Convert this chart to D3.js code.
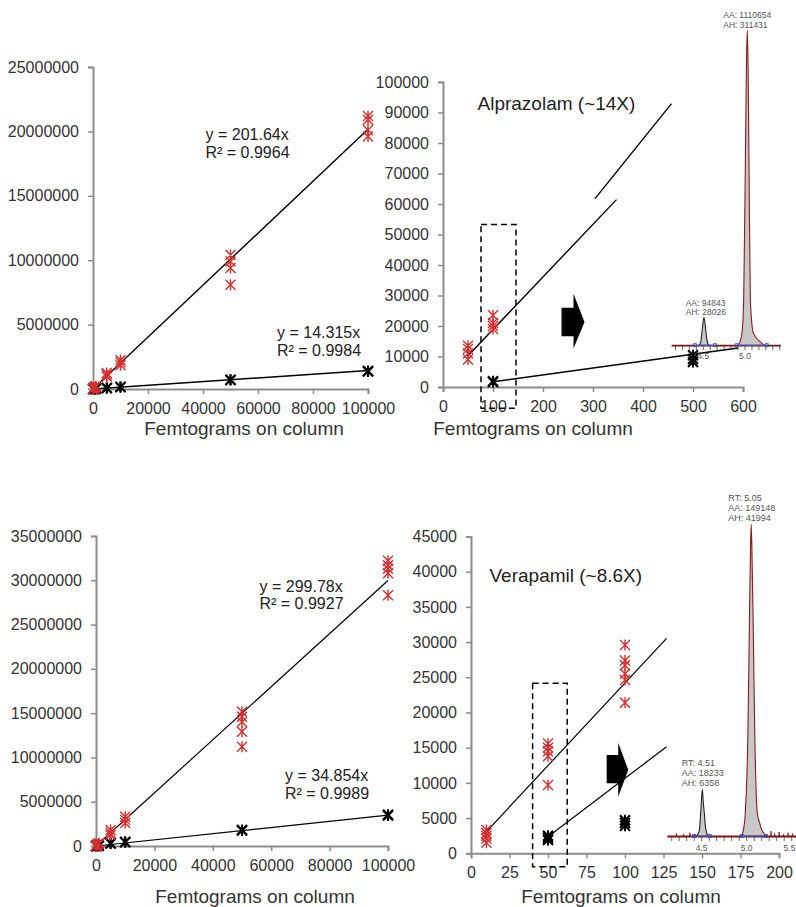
<!DOCTYPE html>
<html><head><meta charset="utf-8">
<script src="https://cdn.jsdelivr.net/npm/d3@7"></script>
<style>body{margin:0;background:#fff}svg{display:block}</style>
</head><body><svg id="c" width="796" height="907"></svg>
<script>
// ---------- DATA ----------
// Alprazolam: high-sensitivity (red) and standard (black) responses, [femtograms, area]
const alpHigh = [[50,13500],[50,12500],[50,11000],[50,9000],[100,23500],[100,21000],[100,20000],[100,19000],
  [500,112000],[500,106000],[500,102000],[1000,215000],[1000,195000],[1000,175000],
  [5000,1250000],[5000,1100000],[5000,950000],[10000,2250000],[10000,2050000],[10000,1850000],
  [50000,10400000],[50000,9900000],[50000,9400000],[50000,8100000],
  [100000,21200000],[100000,20900000],[100000,20100000],[100000,19600000]];
const alpLow = [[100,1900],[100,1600],[500,10400],[500,9200],[500,8200],[1000,15000],[1000,13500],
  [5000,80000],[5000,70000],[10000,165000],[10000,145000],[50000,720000],[50000,690000],
  [100000,1400000],[100000,1360000]];
// Verapamil
const verHigh = [[10,3300],[10,2900],[10,2500],[10,2100],[10,1500],[50,15600],[50,15000],[50,14500],[50,13800],[50,9700],
  [100,29600],[100,27400],[100,26700],[100,25500],[100,24600],[100,21400],[500,160000],[500,145000],
  [1000,310000],[1000,290000],[5000,1800000],[5000,1500000],[5000,1250000],[10000,3300000],[10000,2950000],[10000,2600000],
  [50000,15150000],[50000,14600000],[50000,14000000],[50000,12900000],[50000,11200000],
  [100000,32200000],[100000,31700000],[100000,31300000],[100000,30800000],[100000,28300000]];
const verLow = [[50,2500],[50,2200],[50,1900],[100,4700],[100,4300],[100,3900],[500,17500],[1000,35000],
  [5000,320000],[5000,280000],[10000,470000],[10000,420000],[50000,1800000],[50000,1750000],
  [100000,3520000],[100000,3450000]];
// trend-line slopes and labels
const alpSlopes = [201.64, 14.315];
const verSlopes = [299.78, 34.854];
const alpEqHigh = ["y = 201.64x", "R\u00b2 = 0.9964"];
const alpEqLow  = ["y = 14.315x", "R\u00b2 = 0.9984"];
const verEqHigh = ["y = 299.78x", "R\u00b2 = 0.9927"];
const verEqLow  = ["y = 34.854x", "R\u00b2 = 0.9989"];
// guide lines in the zoomed panels, [femtograms, area]
const alpZoomRed = [[[49,10060],[347,61440]], [[304,61770],[457,92920]]];
const alpZoomBlack = [[100,1700],[590,12800]];
const verZoomRed = [[9,2840],[127,30540]];
const verZoomBlack = [[50,2360],[127,15140]];
const alpBox = [[76,-7000],[146,53300]];
const verBox = [[40,-1900],[62.5,24150]];
// tick values
const bigXTicks = [0,20000,40000,60000,80000,100000];
const alpYTicks = [0,5000000,10000000,15000000,20000000,25000000];
const verYTicks = [0,5000000,10000000,15000000,20000000,25000000,30000000,35000000];
const alpZoomXTicks = [0,100,200,300,400,500,600];
const alpZoomYTicks = [0,10000,20000,30000,40000,50000,60000,70000,80000,90000,100000];
const verZoomXTicks = [0,25,50,75,100,125,150,175,200];
const verZoomYTicks = [0,5000,10000,15000,20000,25000,30000,35000,40000,45000];
const titles = ["Alprazolam (~14X)", "Verapamil (~8.6X)"];
const xLabel = "Femtograms on column";
// chromatogram traces [minutes, intensity]
const topBigPeak = [[4.91,0],[4.94,4000],[4.964,12500],[4.984,45000],[5.004,177000],[5.018,280000],[5.028,311431],[5.038,270000],[5.048,177000],[5.064,45000],[5.10,12500],[5.18,4000],[5.24,0]];
const topSmallPeak = [[4.44,0],[4.455,1000],[4.472,5000],[4.486,15000],[4.508,28026],[4.53,15000],[4.545,5000],[4.56,1500],[4.58,0]];
const botBigPeak = [[4.94,0],[4.962,800],[4.984,3100],[5.014,14300],[5.029,27700],[5.042,38500],[5.05,41994],[5.058,38500],[5.073,27700],[5.089,14300],[5.118,3100],[5.14,2000],[5.167,900],[5.2,300],[5.23,0]];
const botSmallPeak = [[4.44,0],[4.455,300],[4.475,900],[4.489,3200],[4.507,6358],[4.518,4500],[4.529,3200],[4.54,1500],[4.555,500],[4.57,0]];
const botNoise = [[4.22,400],[4.3,300],[4.37,500],[4.42,350],[5.27,700],[5.31,400],[5.36,600],[5.41,300],[5.46,500],[5.51,400]];
const topIntegr = [[4.40,4.64],[4.90,5.26]];
const botIntegr = [[4.416,4.59],[4.944,5.214]];
const topPeakLabels = [["AA: 1110654","AH: 311431"],["AA: 94843","AH: 28026"]];
const botPeakLabels = [["RT: 5.05","AA: 149148","AH: 41994"],["RT: 4.51","AA: 18233","AH: 6358"]];
const topChromTicks = ["4.5","5.0"];
const botChromTicks = ["4.5","5.0","5.5"];

// ---------- DRAW ----------
const FONT = "'Liberation Sans', Arial, Helvetica, sans-serif";
const RED = "#d42f2f";
const AX = "#8c8c8c";
const W = 796;
const svg = d3.select("#c").style("font-family", FONT);

function panel(c) {
  const g = svg.append("g");
  const x = d3.scaleLinear().domain(c.xd).range(c.xr);
  const y = d3.scaleLinear().domain(c.yd).range(c.yr);
  const xa = g.append("g").attr("transform", `translate(0,${c.yr[0]})`)
    .call(d3.axisBottom(x).tickValues(c.xt).tickFormat(d3.format("d")).tickSizeOuter(0).tickSize(5).tickPadding(8.5));
  const ya = g.append("g").attr("transform", `translate(${c.xr[0]},0)`)
    .call(d3.axisLeft(y).tickValues(c.yt).tickFormat(d3.format("d")).tickSizeOuter(0).tickSize(5).tickPadding(9));
  [xa, ya].forEach(a => {
    a.attr("font-family", FONT).attr("font-size", 16);
    a.select(".domain").attr("stroke", AX).attr("stroke-width", 2);
    a.selectAll(".tick line").attr("stroke", AX).attr("stroke-width", 1.5);
    a.selectAll(".tick text").attr("fill", "#333");
  });
  return {g, x, y};
}

function star(g, x, y, pts, color, sw, s) {
  const path = d => { const px = x(d[0]), py = y(d[1]);
    return `M${px-s},${py-s}L${px+s},${py+s}M${px-s},${py+s}L${px+s},${py-s}M${px},${py-s-0.5}L${px},${py+s+0.5}`; };
  g.append("g").selectAll("path").data(pts).join("path")
    .attr("d", path).attr("stroke", color).attr("stroke-width", sw).attr("fill", "none");
}

function seg(g, x, y, pts, sw) {
  g.append("path").attr("d", d3.line().x(d => x(d[0])).y(d => y(d[1]))(pts))
    .attr("stroke", "#000").attr("stroke-width", sw).attr("fill", "none");
}

function texts(g, lines, x0, y0, dy, size, fill) {
  lines.forEach((t, i) => g.append("text").attr("x", x0).attr("y", y0 + i * dy)
    .attr("font-size", size).attr("fill", fill).text(t));
}

// --- Top-left: Alprazolam full range
{
  const {g, x, y} = panel({xd:[0,100000], xr:[93,368], yd:[0,25000000], yr:[389,67], xt:bigXTicks, yt:alpYTicks});
  alpSlopes.forEach(s => seg(g, x, y, [[0,0],[100000, s*100000]], 1.4));
  star(g, x, y, alpLow, "#000", 2, 5);
  star(g, x, y, alpHigh, RED, 1.4, 5);
  texts(g, alpEqHigh, 205.5, 139.5, 18, 16, "#222");
  texts(g, alpEqLow, 277, 337.5, 18, 16, "#222");
  g.append("text").attr("x", 244).attr("y", 435).attr("text-anchor", "middle").attr("font-size", 19).attr("fill", "#333").text(xLabel);
}

// --- Bottom-left: Verapamil full range
{
  const {g, x, y} = panel({xd:[0,100000], xr:[96,388], yd:[0,35000000], yr:[846,536], xt:bigXTicks, yt:verYTicks});
  verSlopes.forEach(s => seg(g, x, y, [[0,0],[100000, s*100000]], 1.2));
  star(g, x, y, verLow, "#000", 2, 5);
  star(g, x, y, verHigh, RED, 1.4, 5);
  texts(g, verEqHigh, 259.5, 591.7, 17, 16, "#222");
  texts(g, verEqLow, 285, 781, 17.5, 16, "#222");
  g.append("text").attr("x", 255).attr("y", 903).attr("text-anchor", "middle").attr("font-size", 19).attr("fill", "#333").text(xLabel);
}

function arrow(g, x, y, a) {
  const p = d3.path();
  p.moveTo(x(a.b0), y(a.bt)); p.lineTo(x(a.b1), y(a.bt)); p.lineTo(x(a.b1), y(a.ht));
  p.lineTo(x(a.tip), y(a.ty)); p.lineTo(x(a.b1), y(a.hb)); p.lineTo(x(a.b1), y(a.bb));
  p.lineTo(x(a.b0), y(a.bb)); p.closePath();
  g.append("path").attr("d", p.toString()).attr("fill", "#000");
}

function box(g, x, y, b) {
  g.append("rect").attr("x", x(b[0][0])).attr("y", y(b[1][1]))
    .attr("width", x(b[1][0]) - x(b[0][0])).attr("height", y(b[0][1]) - y(b[1][1]))
    .attr("fill", "none").attr("stroke", "#000").attr("stroke-width", 1.5).attr("stroke-dasharray", "6,4");
}

const inDomain = (x, y) => d => d[0] <= x.domain()[1] && d[1] <= y.domain()[1];

// --- Top-right: Alprazolam low range
{
  const {g, x, y} = panel({xd:[0,600], xr:[443,743], yd:[0,100000], yr:[387,82], xt:alpZoomXTicks, yt:alpZoomYTicks});
  alpZoomRed.forEach(s => seg(g, x, y, s, 1.4));
  seg(g, x, y, alpZoomBlack, 1.4);
  box(g, x, y, alpBox);
  star(g, x, y, alpHigh.filter(inDomain(x, y)), RED, 1.4, 5);
  star(g, x, y, alpLow.filter(inDomain(x, y)), "#000", 2, 5);
  arrow(g, x, y, {b0:237, b1:261, tip:283, bt:26000, bb:16600, ht:30600, hb:12600, ty:21300});
  g.append("text").attr("x", 477.5).attr("y", 110).attr("font-size", 19).attr("fill", "#222").text(titles[0]);
  g.append("text").attr("x", 533).attr("y", 435).attr("text-anchor", "middle").attr("font-size", 19).attr("fill", "#333").text(xLabel);
}

// --- Bottom-right: Verapamil low range
{
  const {g, x, y} = panel({xd:[0,200], xr:[471,779], yd:[0,45000], yr:[853.3,536.5], xt:verZoomXTicks, yt:verZoomYTicks});
  seg(g, x, y, verZoomRed, 1.2);
  seg(g, x, y, verZoomBlack, 1.2);
  box(g, x, y, verBox);
  star(g, x, y, verHigh.filter(inDomain(x, y)), RED, 1.4, 5);
  star(g, x, y, verLow.filter(inDomain(x, y)), "#000", 2, 5);
  arrow(g, x, y, {b0:88.1, b1:95.6, tip:102.1, bt:13960, bb:9940, ht:15710, hb:8040, ty:11830});
  g.append("text").attr("x", 489.5).attr("y", 581.7).attr("font-size", 19).attr("fill", "#222").text(titles[1]);
  g.append("text").attr("x", 621).attr("y", 903).attr("text-anchor", "middle").attr("font-size", 19).attr("fill", "#333").text(xLabel);
}

// --- Chromatogram insets
function chrom(c) {
  const g = svg.append("g");
  const x = d3.scaleLinear().domain([4.5, 5.0]).range(c.xr);
  const y = d3.scaleLinear().domain([0, c.ymax]).range(c.yr);
  const y0 = y(0);
  const tks = d3.range(-7, 13).map(i => 4.5 + i / 12).filter(t => t >= c.t0 && t <= c.t1);
  g.append("g").selectAll("line").data(tks).join("line")
    .attr("x1", d => x(d)).attr("x2", d => x(d)).attr("y1", y0).attr("y2", y0 + 4.5)
    .attr("stroke", "#444").attr("stroke-width", 0.8);
  g.append("g").selectAll("text").data(c.ticks).join("text")
    .attr("x", d => Math.min(x(+d), W - 6.5)).attr("y", y0 + c.labDy).attr("text-anchor", "middle")
    .attr("font-size", 8.5).attr("fill", "#555").text(d => d);
  const area = d3.area().x(d => x(d[0])).y0(y0).y1(d => y(d[1])).curve(d3.curveMonotoneX);
  const line = d3.line().x(d => x(d[0])).y(d => y(d[1])).curve(d3.curveMonotoneX);
  c.peaks.forEach(p => {
    g.append("path").attr("d", area(p.data)).attr("fill", "#c8c8c8");
    g.append("path").attr("d", line(p.data)).attr("fill", "none").attr("stroke", p.color).attr("stroke-width", 1.1);
  });
  const lin = d3.line().x(d => x(d[0])).y(d => y(d[1]));
  (c.noise || []).forEach(n => {
    g.append("path").attr("d", lin([[n[0]-0.004,0],[n[0],n[1]],[n[0]+0.004,0]]))
      .attr("fill", "none").attr("stroke", "#8b1a1a").attr("stroke-width", 0.9);
  });
  g.append("line").attr("x1", x(c.t0)).attr("x2", x(c.t1)).attr("y1", y0).attr("y2", y0)
    .attr("stroke", "#7b1515").attr("stroke-width", 1.8);
  c.integr.forEach(r => {
    g.append("line").attr("x1", x(r[0])).attr("x2", x(r[1])).attr("y1", y0 - 0.3).attr("y2", y0 - 0.3)
      .attr("stroke", "#3a56b8").attr("stroke-width", 1.3);
    r.forEach(t => g.append("rect").attr("x", x(t) - 1.5).attr("y", y0 - 2).attr("width", 3).attr("height", 3)
      .attr("fill", "none").attr("stroke", "#3a56b8").attr("stroke-width", 0.9));
  });
  c.labels.forEach(l => texts(g, l.lines, l.x, l.y, l.dy, l.size, "#555"));
}

chrom({xr:[703.3,745], ymax:311431, yr:[345.7,30], t0:4.12, t1:5.43, labDy:13.5, ticks:topChromTicks,
  peaks:[{data:topBigPeak, color:"#8b1a1a"},{data:topSmallPeak, color:"#222"}],
  integr: topIntegr,
  labels:[{lines:topPeakLabels[0], x:723.3, y:18.3, dy:9.2, size:8.5},{lines:topPeakLabels[1], x:685.7, y:306, dy:9.2, size:8.5}]});

chrom({xr:[701.7,746.7], ymax:41994, yr:[836.5,524.3], t0:4.118, t1:5.55, labDy:14.5, ticks:botChromTicks,
  peaks:[{data:botBigPeak, color:"#8b1a1a"},{data:botSmallPeak, color:"#222"}],
  noise: botNoise, integr: botIntegr,
  labels:[{lines:botPeakLabels[0], x:728.3, y:501, dy:9.9, size:9},{lines:botPeakLabels[1], x:681.7, y:765.7, dy:10.2, size:9}]});
</script>
</body></html>
